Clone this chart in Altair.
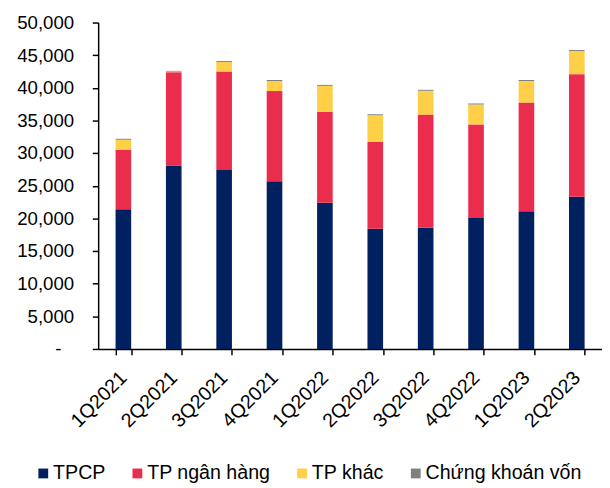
import altair as alt
import pandas as pd

quarters = ["1Q2021", "2Q2021", "3Q2021", "4Q2021", "1Q2022",
            "2Q2022", "3Q2022", "4Q2022", "1Q2023", "2Q2023"]
series = ["TPCP", "TP ngân hàng", "TP khác", "Chứng khoán vốn"]
colors = ["#002060", "#EA2D4C", "#FFCF48", "#808080"]

tpcp = [21400, 28100, 27400, 25700, 22400, 18400, 18550, 20050, 21100, 23300]
tp_ngan_hang = [9100, 14300, 15100, 13800, 13950, 13300, 17350, 14350, 16650, 18800]
tp_khac = [1550, 100, 1450, 1550, 3950, 4100, 3650, 3050, 3300, 3550]
ck_von = [150, 100, 150, 150, 150, 150, 150, 150, 150, 150]

values = [tpcp, tp_ngan_hang, tp_khac, ck_von]
rows = []
for si, (name, vals) in enumerate(zip(series, values)):
    for q, v in zip(quarters, vals):
        rows.append({"quarter": q, "series": name, "value": v, "order": si})
df = pd.DataFrame(rows)

FONT = "Liberation Sans"

chart = alt.Chart(df).mark_bar().encode(
    x=alt.X("quarter:N", sort=quarters, title=None,
            scale=alt.Scale(paddingInner=0.69, paddingOuter=0.345),
            axis=alt.Axis(labelAngle=-45, labelAlign="right", labelBaseline="middle",
                          tickBand="extent", tickSize=6, labelPadding=20,
                          domainColor="black", tickColor="black", domainWidth=1.5,
                          tickWidth=1.5, labelFontSize=20, labelFont=FONT,
                          labelColor="black")),
    y=alt.Y("value:Q", stack="zero", title=None,
            scale=alt.Scale(domain=[0, 50000], nice=False),
            axis=alt.Axis(values=list(range(0, 50001, 5000)), grid=False,
                          labelExpr="datum.value == 0 ? '-' : format(datum.value, ',')",
                          tickSize=6,
                          labelPadding={"condition": {"test": "datum.value == 0", "value": 32},
                                        "value": 19},
                          domainColor="black",
                          tickColor="black", domainWidth=1.5, tickWidth=1.5,
                          labelFontSize=19, labelFont=FONT, labelColor="black")),
    color=alt.Color("series:N", sort=series,
                    scale=alt.Scale(domain=series, range=colors),
                    legend=alt.Legend(title=None, orient="none", direction="horizontal",
                                      legendX=-66, legendY=450,
                                      symbolType="square", symbolSize=100,
                                      symbolStrokeWidth=0, labelFontSize=20,
                                      labelFont=FONT, labelColor="black",
                                      labelOffset=0, columnPadding=22)),
    order=alt.Order("order:Q", sort="ascending"),
).properties(
    width=514, height=333,
    padding={"left": 8, "top": 1, "right": 0, "bottom": 0},
).configure_view(stroke=None)

chart.save("out.html", embed_options={"renderer": "svg", "actions": False})
